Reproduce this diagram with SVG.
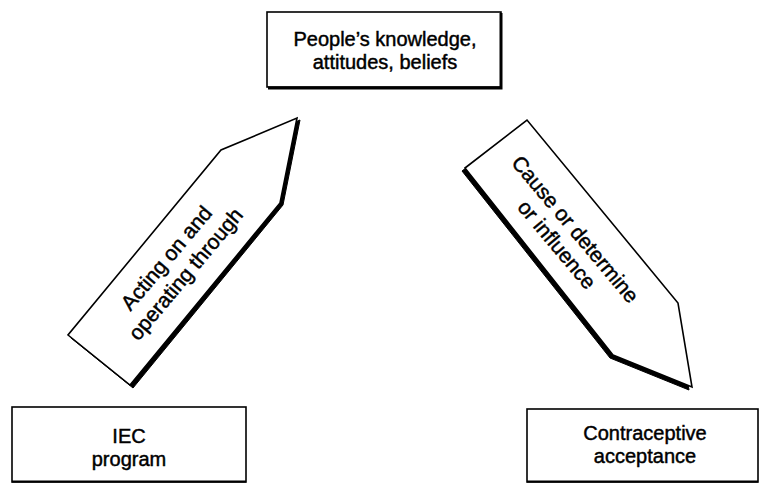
<svg xmlns="http://www.w3.org/2000/svg" width="760" height="484" viewBox="0 0 760 484">
<style>
  .box { fill: #fff; stroke: #000; stroke-width: 1.6; }
  .shadow { fill: none; stroke: #000; stroke-width: 3; }
  .arrow { fill: #fff; stroke: #000; stroke-width: 1.6; stroke-linejoin: miter; }
  .ashadow { fill: #000; stroke: #000; stroke-width: 1; }
  text { font-family: "Liberation Sans", Arial, sans-serif; font-size: 20px; fill: #000; stroke: #000; stroke-width: 0.45; text-anchor: middle; }
  .rot { font-size: 21px; }
</style>
<rect width="760" height="484" fill="#fff"/>
<g id="connectors">
  <g id="arrow-left">
    <polygon class="ashadow" points="300,120 283,205 133,388 71,338 224,152"/>
    <polygon class="arrow" points="297,118 280,203 130,385 68,335 221,150"/>
    <g transform="translate(176.5,266.5) rotate(-50)">
      <text class="rot" x="0" y="-6">Acting on and</text>
      <text class="rot" x="0" y="19">operating through</text>
    </g>
  </g>
  <g id="arrow-right">
    <polygon class="ashadow" points="462,171 524,123 675,306 689,390 610,358"/>
    <polygon class="arrow" points="465,168 527,120 678,303 692,387 613,355"/>
    <g transform="translate(566,237) rotate(50)">
      <text class="rot" x="0" y="-5">Cause or determine</text>
      <text class="rot" x="0" y="19">or influence</text>
    </g>
  </g>
</g>
<g id="node-top">
  <rect class="box" x="267" y="12" width="234" height="75"/>
  <polyline class="shadow" points="501,13 501,88 268,88"/>
  <text x="385" y="46">People’s knowledge,</text>
  <text x="385" y="69">attitudes, beliefs</text>
</g>
<g id="node-iec">
  <rect class="box" x="12" y="407" width="234" height="75"/>
  <line x1="12" y1="481.5" x2="246" y2="481.5" stroke="#000" stroke-width="2"/>
  <text x="129" y="443">IEC</text>
  <text x="129" y="466">program</text>
</g>
<g id="node-contraceptive">
  <rect class="box" x="527" y="409" width="231" height="73"/>
  <line x1="527" y1="481.5" x2="758" y2="481.5" stroke="#000" stroke-width="2"/>
  <text x="645" y="440">Contraceptive</text>
  <text x="645" y="463">acceptance</text>
</g>
</svg>
